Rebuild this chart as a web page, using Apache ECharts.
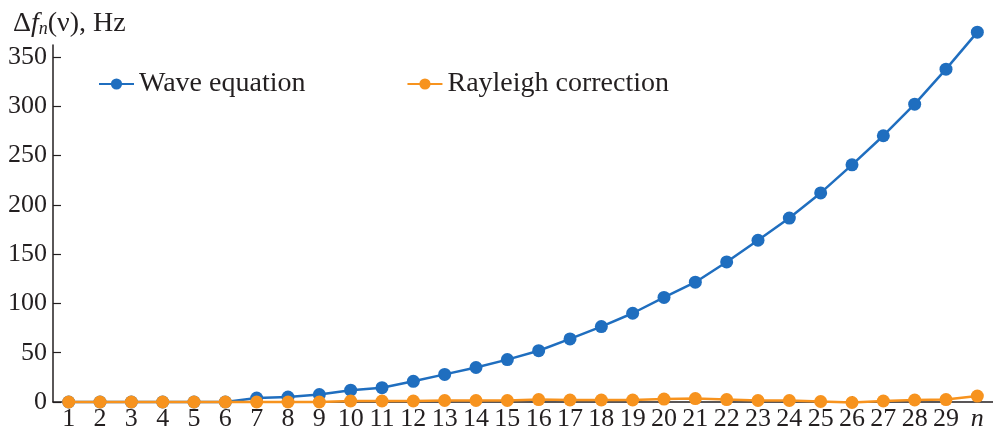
<!DOCTYPE html>
<html>
<head>
<meta charset="utf-8">
<script src="https://cdn.jsdelivr.net/npm/echarts@6/dist/echarts.min.js"></script>
<style>
  html, body { margin: 0; padding: 0; background: #fff; }
  #chart { width: 993px; height: 432px; }
</style>
</head>
<body>
<div id="chart"></div>
<script>
// Harmonic index n (last category is labelled with the symbol n)
const categories = ['1','2','3','4','5','6','7','8','9','10','11','12','13','14','15',
  '16','17','18','19','20','21','22','23','24','25','26','27','28','29','n'];

// Frequency shift Δf_n(ν), Hz
const waveEquation = [0, 0, 0, 0, 0, 0, 4, 5, 7.5, 12, 14.5, 21, 28, 35, 43,
  52, 64, 76.5, 90, 106, 121.5, 142, 164, 186.5, 212, 240.5, 270, 302, 337.5, 375];
const rayleighCorrection = [0, 0, 0, 0, 0, 0, 0, 0, 0, 1, 1, 1, 1.5, 1.5, 1.5,
  2.5, 2, 2, 2, 3, 3.5, 2.5, 1.5, 1.5, 0.5, -0.5, 1, 2, 2.5, 6];

const yTicks = [0, 50, 100, 150, 200, 250, 300, 350];
const seriesNames = ['Wave equation', 'Rayleigh correction'];

const ink = '#231f20';
const serif = '"Liberation Serif", "DejaVu Serif", serif';
const blue = '#1f6ebf';
const orange = '#f7931e';

const chart = echarts.init(document.getElementById('chart'), null, { renderer: 'canvas' });

chart.setOption({
  animation: false,
  backgroundColor: '#ffffff',
  textStyle: { fontFamily: serif, color: ink },
  title: {
    left: 8,
    top: 5,
    text: 'Δ{i|f}{sub|n}(ν), Hz',
    textStyle: {
      fontFamily: serif,
      fontSize: 28,
      fontWeight: 'normal',
      color: ink,
      rich: {
        i: { fontFamily: serif, fontSize: 28, fontStyle: 'italic', color: ink },
        sub: { fontFamily: serif, fontSize: 18, fontStyle: 'italic', color: ink, padding: [10, 0, 0, 0] }
      }
    }
  },
  legend: {
    left: 93,
    top: 65,
    itemWidth: 35,
    itemHeight: 14,
    itemGap: 101,
    textStyle: { fontFamily: serif, fontSize: 28, color: ink },
    data: seriesNames
  },
  grid: { left: 53, right: 0, top: 45, bottom: 30, containLabel: false },
  xAxis: {
    type: 'category',
    data: categories,
    boundaryGap: true,
    axisLine: { lineStyle: { color: ink, width: 1.5 } },
    axisTick: { show: true, inside: true, length: 6, alignWithLabel: true, lineStyle: { color: ink, width: 1.2 } },
    axisLabel: {
      interval: 0,
      margin: 4,
      fontFamily: serif,
      fontSize: 26,
      color: ink,
      formatter: function (v) { return v === 'n' ? '{i|n}' : v; },
      rich: { i: { fontFamily: serif, fontSize: 26, fontStyle: 'italic', color: ink } }
    },
    splitLine: { show: false }
  },
  yAxis: {
    type: 'value',
    min: 0,
    max: 362,
    axisLine: { show: true, lineStyle: { color: ink, width: 1.5 } },
    axisTick: { show: true, inside: true, length: 8, customValues: yTicks, lineStyle: { color: ink, width: 1.2 } },
    axisLabel: { margin: 6, fontFamily: serif, fontSize: 26, color: ink, customValues: yTicks },
    splitLine: { show: false }
  },
  series: [
    {
      name: seriesNames[0],
      type: 'line',
      data: waveEquation,
      clip: false,
      symbol: 'circle',
      symbolSize: 13,
      color: blue,
      itemStyle: { color: blue },
      lineStyle: { color: blue, width: 2.5 },
      z: 3
    },
    {
      name: seriesNames[1],
      type: 'line',
      data: rayleighCorrection,
      clip: false,
      symbol: 'circle',
      symbolSize: 13,
      color: orange,
      itemStyle: { color: orange },
      lineStyle: { color: orange, width: 2.5 },
      z: 4
    }
  ]
});
</script>
</body>
</html>
